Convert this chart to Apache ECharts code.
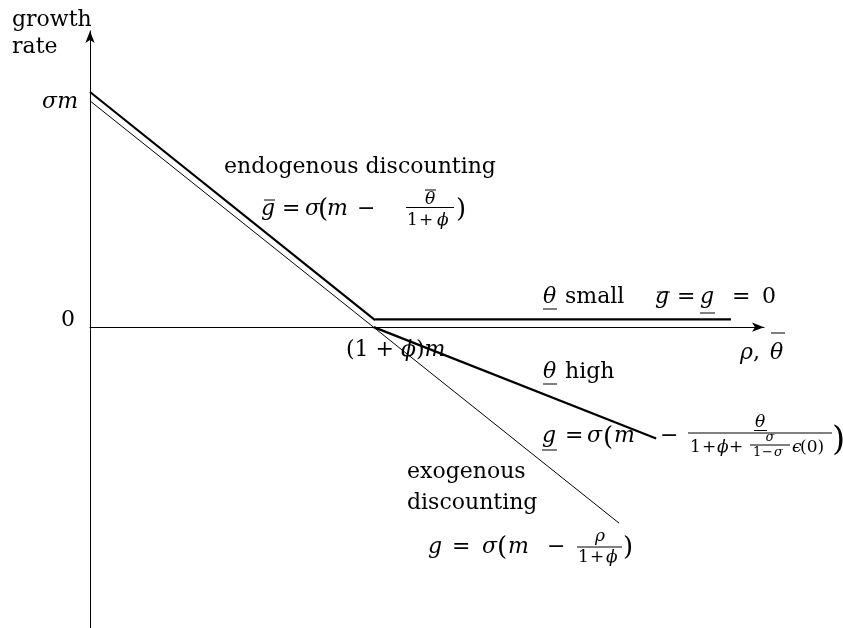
<!DOCTYPE html>
<html>
<head>
<meta charset="utf-8">
<script src="https://cdn.jsdelivr.net/npm/echarts@6/dist/echarts.min.js"></script>
<style>
html,body{margin:0;padding:0;background:#fff}
#main{width:843px;height:628px}
</style>
</head>
<body>
<div id="main"></div>
<script>
// segment end points, in axis units (x: rho / theta, y: growth rate)
var endoLine = [[0, 3.97], [4.23, 0.12]];
var flatLine = [[4.23, 0.13], [9.51, 0.13]];
var exoLine = [[0, 3.82], [7.85, -3.31]];
var highLine = [[4.21, 0], [8.40, -1.88]];
// labelled ticks
var yTickVals = [0, 3.80];
var yTickLabels = ['{z|0}', '{i|σm}'];
var xTickVals = [4.21];
var xTickLabels = ['{r|(1 + }{i|ϕ}{r|)}{i|m}'];

var FF = '"DejaVu Serif"';
var richTick = {
  i: {fontStyle: 'italic', fontFamily: FF, fontSize: 22, color: '#000', fill: '#000'},
  r: {fontFamily: FF, fontSize: 22, color: '#000', fill: '#000'},
  z: {fontFamily: FF, fontSize: 22, color: '#000', padding: [0, 3, 14, 0]}
};

// text piece placed by its baseline
function tx(s, x, base, size, it, align) {
  size = size || 22;
  return {
    type: 'text', x: x, y: base - 0.3 * size, silent: true,
    style: {
      text: s, fill: '#000',
      font: (it ? 'italic ' : '') + size + 'px ' + FF,
      textAlign: align || 'left', align: align || 'left',
      textVerticalAlign: 'middle', verticalAlign: 'middle'
    }
  };
}
function ln(x1, y1, x2, y2, w) {
  return {type: 'line', silent: true, shape: {x1: x1, y1: y1, x2: x2, y2: y2},
    style: {stroke: '#000', lineWidth: w || 1}};
}
function seg(data, w) {
  return {type: 'line', data: data, symbol: 'none', silent: true,
    lineStyle: {color: '#000', width: w}};
}

var graphics = [
  tx('growth', 12, 27), tx('rate', 12, 54),
  tx('endogenous discounting', 224, 174),
  // g bar = sigma(m - theta bar/(1+phi))
  tx('g', 261, 216, 22, true), ln(264, 200, 275, 200),
  tx('=', 282, 216), tx('σ', 305, 216, 22, true), tx('(', 318, 218, 26),
  tx('m', 327, 216, 22, true), tx('−', 357, 216),
  tx('θ', 430, 205, 17, true, 'center'), ln(425, 190, 436, 190),
  ln(406, 207.5, 454, 207.5),
  tx('1', 407, 226, 17), tx('+', 419, 226, 17), tx('ϕ', 437, 226, 17, true),
  tx(')', 456, 218, 26),
  // theta small
  tx('θ', 543, 304, 22, true), ln(543, 309, 557, 309),
  tx('small', 565, 304),
  tx('g', 655, 304, 22, true), ln(657, 292, 670, 292),
  tx('=', 677, 304),
  tx('g', 700, 304, 22, true), ln(700, 313, 715, 313),
  tx('=', 732, 304), tx('0', 762, 304),
  // axis name
  tx('ρ', 740, 360, 22, true), tx(',', 753, 360),
  tx('θ', 770, 360, 22, true), ln(771, 333, 785, 333),
  // theta high
  tx('θ', 543, 379, 22, true), ln(543, 384, 557, 384),
  tx('high', 565, 379),
  // g under = sigma(m - theta/(1+phi+sigma/(1-sigma) eps(0)))
  tx('g', 542, 443, 22, true), ln(542, 450, 557, 450),
  tx('=', 565, 443), tx('σ', 587, 443, 22, true), tx('(', 603, 446, 26),
  tx('m', 614, 443, 22, true), tx('−', 660, 443),
  tx('θ', 760, 428, 17, true, 'center'), ln(754, 430.5, 767, 430.5),
  ln(688, 433, 832, 433),
  tx('1', 690, 453, 17), tx('+', 702, 453, 17), tx('ϕ', 717, 453, 17, true), tx('+', 729, 453, 17),
  tx('σ', 770, 442, 13, true, 'center'), ln(750, 445, 790, 445),
  tx('1', 753, 457, 13), tx('−', 762, 457, 13), tx('σ', 774, 457, 13, true),
  tx('ϵ', 792, 453, 17, true), tx('(0)', 800, 453, 17),
  tx(')', 832, 451, 34),
  // exogenous
  tx('exogenous', 407, 479), tx('discounting', 407, 510),
  tx('g', 428, 554, 22, true), tx('=', 452, 554), tx('σ', 482, 554, 22, true),
  tx('(', 497, 556, 26), tx('m', 508, 554, 22, true), tx('−', 547, 554),
  tx('ρ', 600, 542, 17, true, 'center'),
  ln(577, 547, 622, 547),
  tx('1', 578, 563, 17), tx('+', 590, 563, 17), tx('ϕ', 606, 563, 17, true),
  tx(')', 623, 556, 26)
];

var chart = echarts.init(document.getElementById('main'), null, {renderer: 'canvas'});
chart.setOption({
  animation: false,
  backgroundColor: '#fff',
  grid: {left: 90, right: 79, top: 31, bottom: 0, outerBoundsMode: 'none'},
  xAxis: {
    type: 'value', min: 0, max: 10,
    axisLine: {onZero: true, symbol: ['none', 'arrow'], symbolSize: [7, 12],
      lineStyle: {color: '#000', width: 1}},
    axisTick: {show: false}, axisLabel: {show: false}, splitLine: {show: false}
  },
  yAxis: {
    type: 'value', min: -5.08, max: 5,
    axisLine: {onZero: false, symbol: ['none', 'arrow'], symbolSize: [7, 12],
      lineStyle: {color: '#000', width: 1}},
    axisTick: {show: false},
    axisLabel: {
      show: true, customValues: yTickVals, margin: 12,
      formatter: function (v) { return yTickLabels[yTickVals.indexOf(v)] || ''; },
      color: '#000', fontFamily: FF, fontSize: 22, rich: richTick
    },
    splitLine: {show: false}
  },
  series: [
    {
      // label of the kink on the horizontal axis
      type: 'custom', silent: true,
      data: xTickVals.map(function (v) { return [v, 0]; }),
      renderItem: function (params, api) {
        var pt = api.coord([api.value(0), api.value(1)]);
        return {
          type: 'text', x: pt[0] + 22, y: pt[1] + 23,
          style: {
            text: xTickLabels[params.dataIndex], fill: '#000',
            font: '22px ' + FF, rich: richTick,
            align: 'center', verticalAlign: 'middle'
          }
        };
      }
    },
    seg(exoLine, 1),
    seg(endoLine, 2.2),
    seg(flatLine, 2.2),
    seg(highLine, 2.2)
  ],
  graphic: graphics
});
</script>
</body>
</html>
